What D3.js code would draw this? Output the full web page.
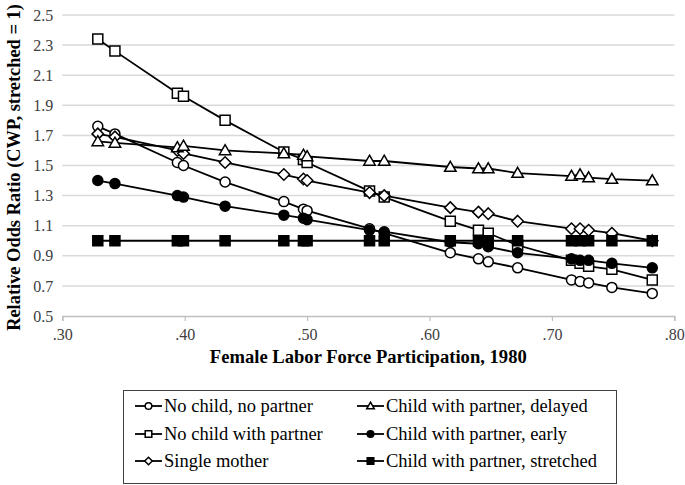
<!DOCTYPE html>
<html><head><meta charset="utf-8">
<script src="https://cdn.jsdelivr.net/npm/d3@7"></script>
<style>body{margin:0;background:#fff}svg{display:block}
svg text{font-family:"Liberation Serif","Times New Roman",Times,serif}</style>
</head><body>
<svg id="c" width="685" height="485"></svg>
<script>
const xValues = [0.329,0.343,0.394,0.399,0.433,0.481,0.497,0.500,0.551,0.563,0.617,0.640,0.648,0.672,0.716,0.723,0.730,0.749,0.782];
const noChildNoPartner   = [1.76,1.71,1.52,1.50,1.39,1.26,1.21,1.20,1.08,1.05,0.92,0.88,0.86,0.82,0.74,0.73,0.72,0.69,0.65];
const noChildWithPartner = [2.34,2.26,1.98,1.96,1.80,1.59,1.54,1.52,1.33,1.29,1.13,1.07,1.05,0.97,0.87,0.85,0.83,0.81,0.74];
const singleMother       = [1.71,1.69,1.60,1.58,1.52,1.44,1.41,1.40,1.32,1.30,1.22,1.19,1.18,1.13,1.08,1.08,1.07,1.05,1.00];
const delayed            = [1.66,1.65,1.62,1.63,1.60,1.58,1.57,1.56,1.53,1.53,1.49,1.48,1.48,1.45,1.43,1.44,1.42,1.41,1.40];
const early              = [1.40,1.38,1.30,1.29,1.23,1.17,1.15,1.14,1.07,1.06,0.99,0.98,0.96,0.92,0.88,0.87,0.87,0.85,0.82];
const stretched          = [1.00,1.00,1.00,1.00,1.00,1.00,1.00,1.00,1.00,1.00,1.00,1.00,1.00,1.00,1.00,1.00,1.00,1.00,1.00];
const seriesNames = ["No child, no partner","No child with partner","Single mother","Child with partner, delayed","Child with partner, early","Child with partner, stretched"];
const xTicks = [0.30,0.40,0.50,0.60,0.70,0.80];
const yTicks = [0.5,0.7,0.9,1.1,1.3,1.5,1.7,1.9,2.1,2.3,2.5];
const xTitle = "Female Labor Force Participation, 1980";
const yTitle = "Relative Odds Ratio (CWP, stretched = 1)";

const series = [
  {name: seriesNames[0], values: noChildNoPartner, shape: "circle", fill: "#fff"},
  {name: seriesNames[1], values: noChildWithPartner, shape: "square", fill: "#fff"},
  {name: seriesNames[2], values: singleMother, shape: "diamond", fill: "#fff"},
  {name: seriesNames[3], values: delayed, shape: "triangle", fill: "#fff"},
  {name: seriesNames[4], values: early, shape: "circle", fill: "#000"},
  {name: seriesNames[5], values: stretched, shape: "square", fill: "#000"}
];

const svg = d3.select("#c");
const x = d3.scaleLinear().domain([0.30,0.80]).range([62.3,674.3]);
const y = d3.scaleLinear().domain([0.5,2.5]).range([316,15]);

// gridlines
svg.append("g").selectAll("line").data(yTicks.slice(1)).join("line")
  .attr("x1", x(0.30)).attr("x2", x(0.80))
  .attr("y1", d => y(d)).attr("y2", d => y(d))
  .attr("stroke", "#d9d9d9").attr("stroke-width", 1.5);

// x axis
const xAxis = d3.axisBottom(x).tickValues(xTicks).tickSize(5).tickPadding(8)
  .tickFormat(d => d3.format(".2f")(d).replace(/^0/, ""));
const gx = svg.append("g").attr("transform", `translate(0,${y(0.5)})`).call(xAxis);
gx.attr("font-family", null).attr("font-size", null);
gx.select(".domain").attr("stroke", "#bfbfbf").attr("stroke-width", 1.5);
gx.selectAll(".tick line").attr("stroke", "#bfbfbf").attr("stroke-width", 1.2);
gx.selectAll("text").style("font-size", "16px").attr("fill", "#404040");

// y axis labels
const yAxis = d3.axisLeft(y).tickValues(yTicks).tickSize(0).tickPadding(9).tickFormat(d3.format(".1f"));
const gy = svg.append("g").attr("transform", `translate(${x(0.30)},0)`).call(yAxis);
gy.attr("font-family", null).attr("font-size", null);
gy.select(".domain").remove();
gy.selectAll("text").style("font-size", "16px").attr("fill", "#404040");

// titles
svg.append("text").attr("x", (x(0.30)+x(0.80))/2).attr("y", 363)
  .attr("text-anchor", "middle").style("font-weight", "bold")
  .style("font-size", "18.6px").attr("fill", "#000").text(xTitle);
svg.append("text").attr("transform", `translate(20,${(y(0.5)+y(2.5))/2 + 2}) rotate(-90)`)
  .attr("text-anchor", "middle").style("font-weight", "bold")
  .style("font-size", "18.4px").attr("fill", "#000").text(yTitle);

function shapePath(shape, s) {
  if (shape === "circle") return d3.symbol(d3.symbolCircle, Math.PI*s*s)();
  if (shape === "square") return d3.symbol(d3.symbolSquare, 4*s*s)();
  if (shape === "diamond") { const r = s*1.15; return `M0,${-r}L${r},0L0,${r}L${-r},0Z`; }
  if (shape === "triangle") { const w = s*1.15; return `M0,${-s*1.15}L${w},${s*0.85}L${-w},${s*0.85}Z`; }
}

const line = d3.line().x(d => x(d[0])).y(d => y(d[1]));
series.forEach(s => {
  const pts = xValues.map((xv, i) => [xv, s.values[i]]);
  const g = svg.append("g");
  g.append("path").attr("d", line(pts)).attr("fill", "none").attr("stroke", "#000").attr("stroke-width", 1.8);
  g.selectAll("path.m").data(pts).join("path").attr("class", "m")
    .attr("transform", d => `translate(${x(d[0])},${y(d[1])})`)
    .attr("d", shapePath(s.shape, 5))
    .attr("fill", s.fill).attr("stroke", "#000").attr("stroke-width", 1.5);
});

// legend
const lg = svg.append("g");
lg.append("rect").attr("x", 123.5).attr("y", 390.5).attr("width", 493).attr("height", 93)
  .attr("fill", "#fff").attr("stroke", "#404040").attr("stroke-width", 1);
const colX = [135, 357];
const rowY = [406, 434, 461];
series.forEach((s, i) => {
  const cx = colX[Math.floor(i/3)], cy = rowY[i%3];
  const item = lg.append("g").attr("transform", `translate(${cx},${cy})`);
  item.append("line").attr("x1", 0).attr("x2", 27).attr("y1", 0).attr("y2", 0)
    .attr("stroke", "#000").attr("stroke-width", 1.8);
  item.append("path").attr("transform", "translate(13.5,0)").attr("d", shapePath(s.shape, 3.3))
    .attr("fill", s.fill).attr("stroke", "#000").attr("stroke-width", 1.5);
  item.append("text").attr("x", 29).attr("y", 0).attr("dy", "0.35em")
    .style("font-size", "18.5px").attr("fill", "#000").text(s.name);
});
</script>
</body></html>
